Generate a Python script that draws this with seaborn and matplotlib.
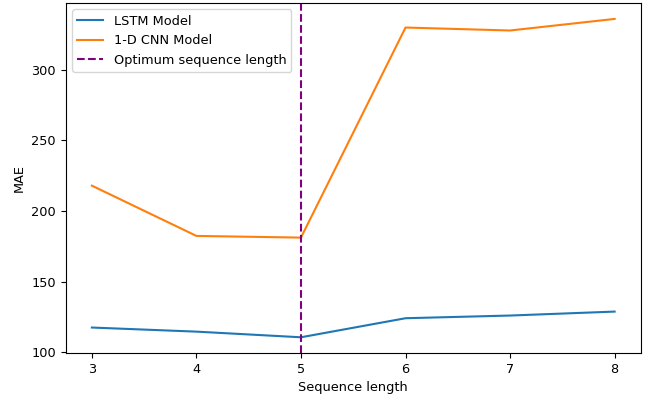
import numpy as np
import pandas as pd
import matplotlib
matplotlib.use("Agg")
import matplotlib.pyplot as plt
import seaborn as sns

seq_len = [3, 4, 5, 6, 7, 8]
lstm_mae = [117.5, 114.6, 110.6, 124.1, 126.0, 128.8]
cnn_mae = [218.0, 182.4, 181.2, 330.0, 327.9, 336.1]
optimum_len = 5

df = pd.DataFrame({"seq": seq_len, "lstm": lstm_mae, "cnn": cnn_mae})

plt.rcParams["font.size"] = 9.3

fig, ax = plt.subplots(figsize=(6.64, 4.0), dpi=100)
fig.subplots_adjust(left=0.099, right=0.965, top=0.9925, bottom=0.117)

sns.lineplot(data=df, x="seq", y="lstm", ax=ax, color="tab:blue", label="LSTM Model")
sns.lineplot(data=df, x="seq", y="cnn", ax=ax, color="tab:orange", label="1-D CNN Model")
ax.axvline(optimum_len, color="purple", linestyle="--", label="Optimum sequence length")

ax.set_xlabel("Sequence length")
ax.set_ylabel("MAE")
ax.legend(loc="upper left")

fig.savefig("out.png", dpi=100)
